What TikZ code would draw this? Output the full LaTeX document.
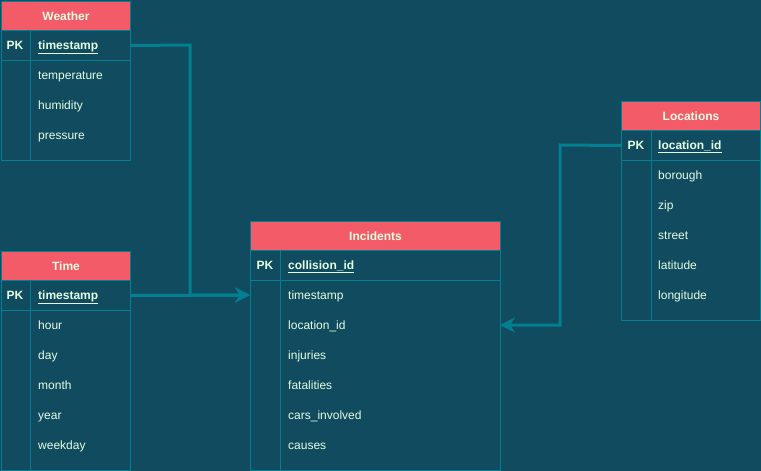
\documentclass[tikz,border=0pt]{standalone}
\usepackage{fontspec}
\setmainfont{Liberation Sans}
\usetikzlibrary{arrows.meta}
\definecolor{bgc}{HTML}{114B5F}
\definecolor{hdc}{HTML}{F45B69}
\definecolor{lnc}{HTML}{028090}
\definecolor{txc}{HTML}{E4FDE1}
\begin{document}
\begin{tikzpicture}[x=1pt,y=-1pt,
 hdr/.style={draw=lnc, fill=hdc, line width=1pt, anchor=north west, inner sep=0pt, text=txc, font=\bfseries\fontsize{12}{14}\selectfont},
 box/.style={draw=lnc, line width=1pt, anchor=north west, inner sep=0pt},
 pk/.style={text=txc, font=\bfseries\fontsize{12}{14}\selectfont, inner sep=0pt, text height=8.6pt, text depth=0pt},
 fld/.style={text=txc, font=\fontsize{12}{14}\selectfont, anchor=west, inner sep=0pt, text height=8.6pt, text depth=0pt},
 conn/.style={draw=lnc, line width=3pt, -{Stealth[length=15pt,width=15pt,inset=5pt]}},
 divl/.style={draw=lnc, line width=1pt}]
\fill[bgc] (0,0) rectangle (761,471);
\useasboundingbox (0,0) rectangle (761,471);

% Weather
\node[hdr, minimum width=129pt, minimum height=29pt] (wh) at (1,1) {Weather};
\node[box, minimum width=129pt, minimum height=30pt] (wpk) at (1,30) {};
\node[box, minimum width=129pt, minimum height=100pt] (wb) at (1,60) {};
\draw[divl] (30,30) -- (30,160);
\node[pk] (wpkl) at (15,45) {PK};
\node[fld] (wf0) at (38,45) {\textbf{\underline{timestamp}}};
\node[fld] (wf1) at (38,75) {temperature};
\node[fld] (wf2) at (38,105) {humidity};
\node[fld] (wf3) at (38,135) {pressure};

% Time
\node[hdr, minimum width=129pt, minimum height=29pt] (th) at (1,251) {Time};
\node[box, minimum width=129pt, minimum height=30pt] (tpk) at (1,280) {};
\node[box, minimum width=129pt, minimum height=160pt] (tb) at (1,310) {};
\draw[divl] (30,280) -- (30,470);
\node[pk] (tpkl) at (15,295) {PK};
\node[fld] (tf0) at (38,295) {\textbf{\underline{timestamp}}};
\node[fld] (tf1) at (38,325) {hour};
\node[fld] (tf2) at (38,355) {day};
\node[fld] (tf3) at (38,385) {month};
\node[fld] (tf4) at (38,415) {year};
\node[fld] (tf5) at (38,445) {weekday};

% Incidents
\node[hdr, minimum width=250pt, minimum height=29pt] (ih) at (250,221) {Incidents};
\node[box, minimum width=250pt, minimum height=30pt] (ipk) at (250,250) {};
\node[box, minimum width=250pt, minimum height=190pt] (ib) at (250,280) {};
\draw[divl] (280,250) -- (280,470);
\node[pk] (ipkl) at (265,265) {PK};
\node[fld] (if0) at (288,265) {\textbf{\underline{collision\_id}}};
\node[fld] (if1) at (288,295) {timestamp};
\node[fld] (if2) at (288,325) {location\_id};
\node[fld] (if3) at (288,355) {injuries};
\node[fld] (if4) at (288,385) {fatalities};
\node[fld] (if5) at (288,415) {cars\_involved};
\node[fld] (if6) at (288,445) {causes};

% Locations
\node[hdr, minimum width=139pt, minimum height=29pt] (lh) at (621,101) {Locations};
\node[box, minimum width=139pt, minimum height=30pt] (lpk) at (621,130) {};
\node[box, minimum width=139pt, minimum height=160pt] (lb) at (621,160) {};
\draw[divl] (651,130) -- (651,320);
\node[pk] (lpkl) at (636,145) {PK};
\node[fld] (lf0) at (658,145) {\textbf{\underline{location\_id}}};
\node[fld] (lf1) at (658,175) {borough};
\node[fld] (lf2) at (658,205) {zip};
\node[fld] (lf3) at (658,235) {street};
\node[fld] (lf4) at (658,265) {latitude};
\node[fld] (lf5) at (658,295) {longitude};

% connectors
\coordinate (wjog) at (190,45);
\coordinate (iin1) at (250,295);
\coordinate (ljog) at (560,145);
\coordinate (iin2) at (500,325);
\draw[conn] (wpk.east) -- (wjog) |- (iin1);
\draw[conn] (tpk.east) -- (iin1);
\draw[conn] (lpk.west) -- (ljog) |- (iin2);
\end{tikzpicture}
\end{document}
